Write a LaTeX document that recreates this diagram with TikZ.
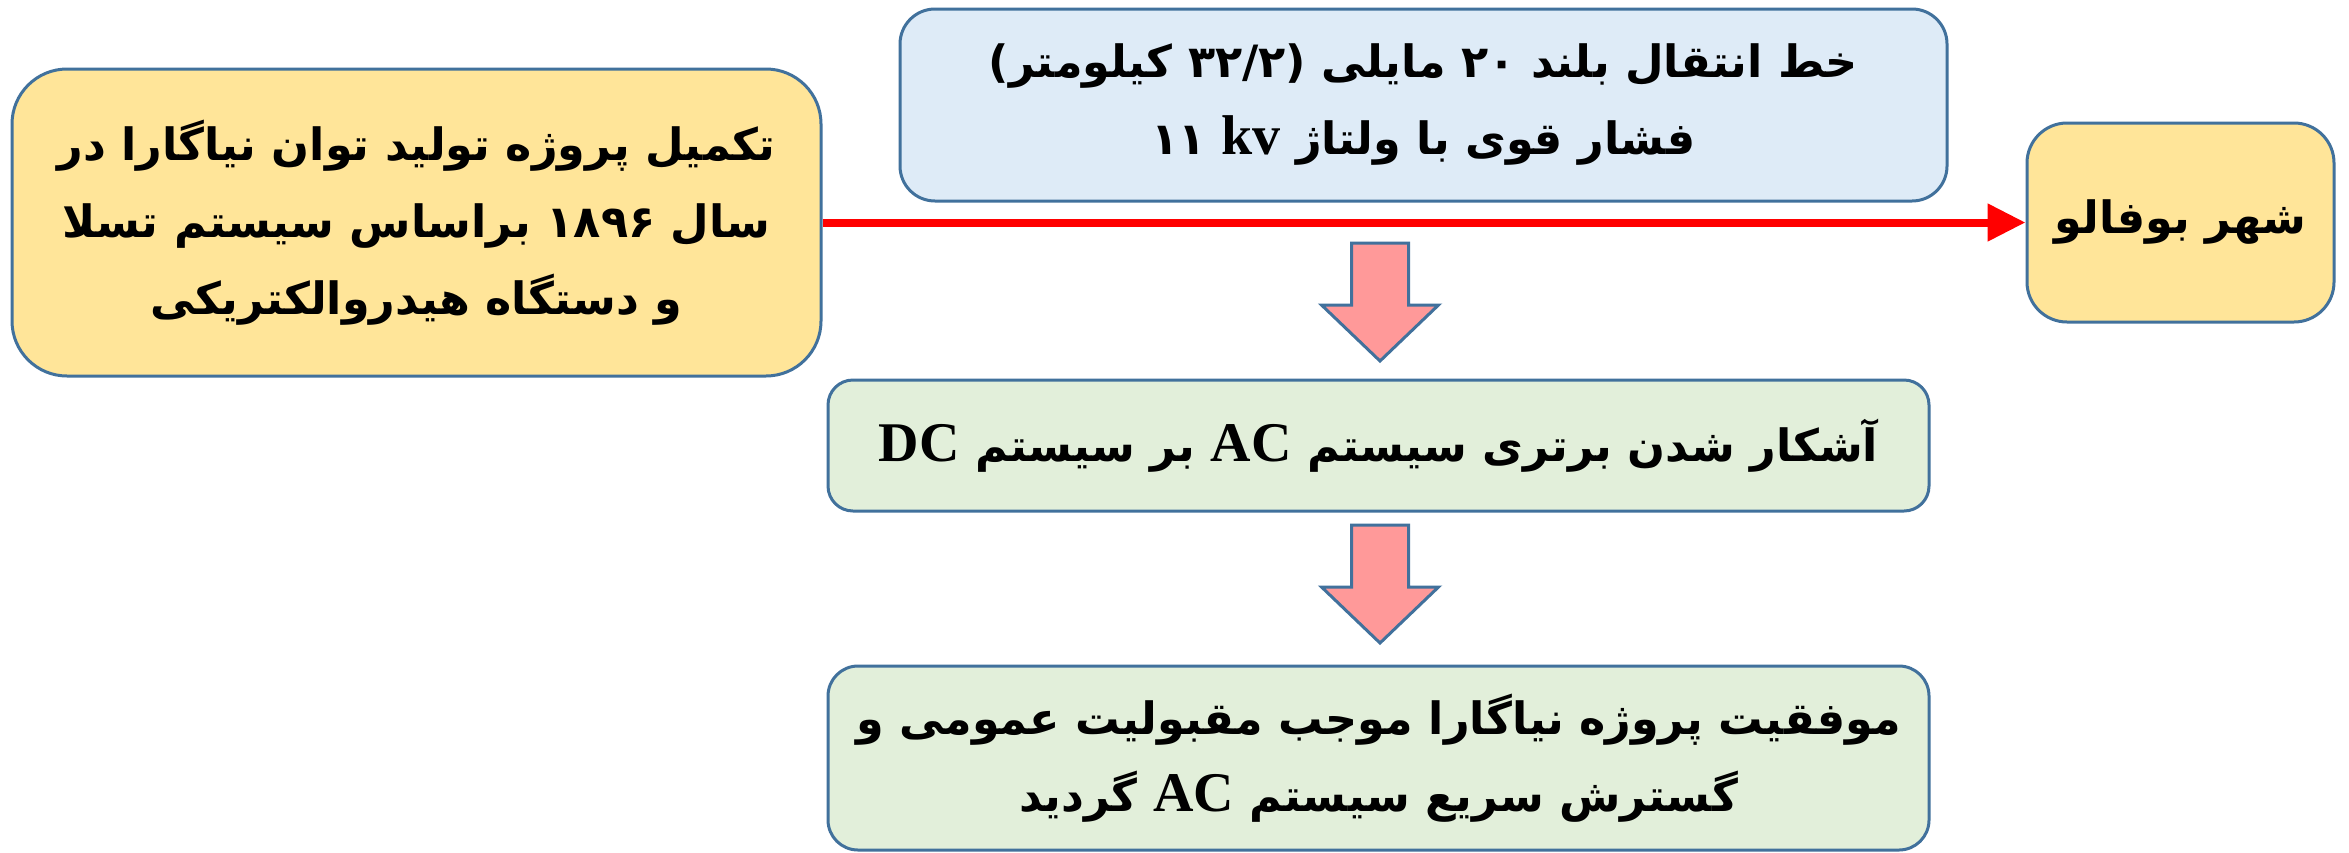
\documentclass[tikz,border=0pt]{standalone}
\usepackage{fontspec}
\usetikzlibrary{arrows.meta}
\TeXXeTstate=1
\newfontfamily\arabicfont[Script=Arabic]{DejaVu Sans}
\newfontfamily\latinserif{Liberation Serif}
\newcommand\rline[1]{\beginR#1\endR}
\newcommand\lat[1]{\beginL{\latinserif\bfseries\fontsize{56}{66}\selectfont #1}\endL}
\definecolor{boxborder}{HTML}{41719C}
\definecolor{yellowfill}{HTML}{FFE599}
\definecolor{bluefill}{HTML}{DEEBF7}
\definecolor{greenfill}{HTML}{E2EFDA}
\definecolor{arrowfill}{HTML}{FF9999}
\begin{document}
\begin{tikzpicture}[x=1pt,y=-1pt,
  box/.style={draw=boxborder, line width=3pt, align=center, inner sep=0pt,
    font=\arabicfont\bfseries\fontsize{44.5}{77}\selectfont},
  yellowbox/.style={box, fill=yellowfill},
  bluebox/.style={box, fill=bluefill},
  greenbox/.style={box, fill=greenfill},
  redline/.style={draw=red, line width=8pt, -{Triangle[length=38pt,width=36pt]}},
  blockarrow/.style={draw=boxborder, line width=3pt, fill=arrowfill, line join=miter},
  blockdown/.pic={\path[blockarrow] (-28.5,0) -- (28.5,0) -- (28.5,62) -- (58.5,62) -- (0,118) -- (-58.5,62) -- (-28.5,62) -- cycle;}
]
\useasboundingbox[fill=white] (0,0) rectangle (2349,852);

\node[yellowbox, minimum width=809pt, minimum height=307pt, rounded corners=55pt] (L) at (416.5,222.5)
  {\rline{تکمیل پروژه تولید توان نیاگارا در}\\ \rline{سال ۱۸۹۶ براساس سیستم تسلا}\\ \rline{و دستگاه هیدروالکتریکی}};

\node[bluebox, minimum width=1047pt, minimum height=192pt, rounded corners=35pt] (T) at (1423.5,105)
  {\rline{خط انتقال بلند ۲۰ مایلی (۳۲/۲ کیلومتر)}\\ \rline{فشار قوی با ولتاژ \lat{kv} ۱۱}};

\node[yellowbox, minimum width=307pt, minimum height=199pt, rounded corners=40pt] (R) at (2180.5,222.5)
  {\rline{شهر بوفالو}};

\node[greenbox, minimum width=1101pt, minimum height=131pt, rounded corners=25pt] (G1) at (1378.5,445.5)
  {\rline{آشکار شدن برتری سیستم \lat{AC} بر سیستم \lat{DC}}};

\node[greenbox, minimum width=1101pt, minimum height=184pt, rounded corners=30pt] (G2) at (1378.5,758)
  {\rline{موفقیت پروژه نیاگارا موجب مقبولیت عمومی و}\\ \rline{گسترش سریع سیستم \lat{AC} گردید}};

\draw[redline] (L.east) -- (R.west);

\coordinate (A1) at (1380,243);
\coordinate (A2) at (1380,525);
\pic at (A1) {blockdown};
\pic at (A2) {blockdown};
\end{tikzpicture}
\end{document}
